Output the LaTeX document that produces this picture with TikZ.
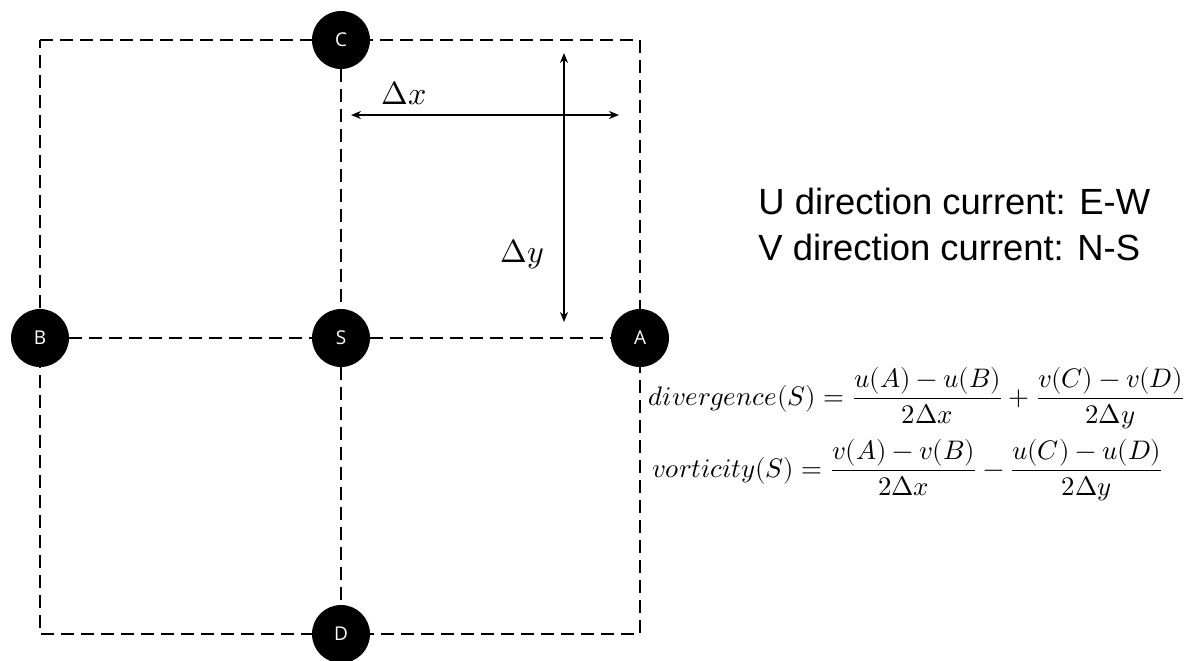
\documentclass[tikz,border=0pt]{standalone}
\usepackage{fontspec}
\usepackage{unicode-math}
\setmainfont{Liberation Sans}
\setmathfont{Latin Modern Math}
\newfontfamily\circfont{Open Sans}
\usetikzlibrary{arrows.meta}
\begin{document}
\begin{tikzpicture}[x=0.5pt,y=-0.5pt,
  grid/.style={draw=black,line width=0.7pt,dash pattern=on 6.5pt off 3.5pt},
  pt/.style={circle,fill=black,minimum size=29pt,inner sep=0pt,text=white,font=\circfont\fontsize{9.5}{11}\selectfont},
  dimarrow/.style={line width=1pt,{Stealth[length=5pt,width=4pt]}-{Stealth[length=5pt,width=4pt]}},
  eq/.style={anchor=west,inner sep=0pt,font=\fontsize{13.4}{15}\selectfont}]
\useasboundingbox (0,0) rectangle (1186,660);
% grid
\coordinate (TL) at (40,40);
\coordinate (TR) at (640,40);
\coordinate (BL) at (40,634);
\coordinate (BR) at (640,634);
\draw[grid] (TL) -- (TR) -- (BR) -- (BL) -- cycle;
\node[pt] (C) at (341,40) {C};
\node[pt] (D) at (341,634) {D};
\node[pt] (B) at (40,338) {B};
\node[pt] (A) at (640,338) {A};
\node[pt] (S) at (341,338) {S};
\draw[grid] (C) -- (S);
\draw[grid] (S) -- (D);
\draw[grid] (B) -- (S);
\draw[grid] (S) -- (A);
% dimension arrows
\coordinate (xl) at (351,115);
\coordinate (xr) at (619,115);
\coordinate (yt) at (564,53);
\coordinate (yb) at (564,322);
\draw[dimarrow] (xl) -- (xr);
\draw[dimarrow] (yt) -- (yb);
\node[font=\fontsize{16}{18}\selectfont] (dx) at (404,93) {$\Delta x$};
\node[font=\fontsize{16}{18}\selectfont] (dy) at (522,254) {$\Delta y$};
% text
\node[font=\fontsize{18.2}{22}\selectfont,anchor=west,inner sep=0pt] (u) at (758,201) {U direction current: E-W};
\node[font=\fontsize{18.2}{22}\selectfont,anchor=west,inner sep=0pt] (v) at (758,247) {V direction current: N-S};
% equations
\node[eq] (div) at (648,398) {$\displaystyle divergence(S) = \frac{u(A)-u(B)}{2\Delta x}+\frac{v(C)-v(D)}{2\Delta y}$};
\node[eq] (vor) at (652,470) {$\displaystyle vorticity(S) = \frac{v(A)-v(B)}{2\Delta x}-\frac{u(C)-u(D)}{2\Delta y}$};
\end{tikzpicture}
\end{document}
